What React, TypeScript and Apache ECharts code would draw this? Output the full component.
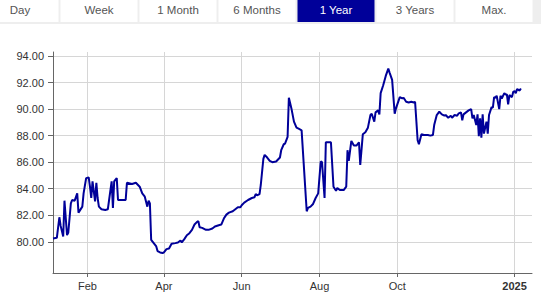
import React, { useEffect, useRef } from 'react';
import * as echarts from 'echarts';

const dates: string[] = [
  '2024-01-05','2024-01-08','2024-01-10','2024-01-11','2024-01-13','2024-01-14','2024-01-16','2024-01-17','2024-01-19','2024-01-20',
  '2024-01-22','2024-01-24','2024-01-25','2024-01-28','2024-01-29','2024-01-31','2024-02-02','2024-02-03','2024-02-04','2024-02-05',
  '2024-02-07','2024-02-08','2024-02-09','2024-02-10','2024-02-12','2024-02-15','2024-02-17','2024-02-18','2024-02-20','2024-02-21',
  '2024-02-22','2024-02-24','2024-02-25','2024-03-02','2024-03-03','2024-03-07','2024-03-10','2024-03-13','2024-03-15','2024-03-17',
  '2024-03-19','2024-03-20','2024-03-21','2024-03-22','2024-03-24','2024-03-26','2024-03-27','2024-03-29','2024-03-31','2024-04-01',
  '2024-04-03','2024-04-05','2024-04-07','2024-04-10','2024-04-12','2024-04-14','2024-04-15','2024-04-17','2024-04-19','2024-04-21',
  '2024-04-23','2024-04-25','2024-04-27','2024-04-28','2024-04-29','2024-05-01','2024-05-04','2024-05-06','2024-05-09','2024-05-11',
  '2024-05-14','2024-05-16','2024-05-18','2024-05-20','2024-05-22','2024-05-25','2024-05-27','2024-05-29','2024-05-31','2024-06-01',
  '2024-06-03','2024-06-06','2024-06-09','2024-06-11','2024-06-12','2024-06-13','2024-06-15','2024-06-16','2024-06-18','2024-06-19',
  '2024-06-21','2024-06-23','2024-06-25','2024-06-28','2024-07-01','2024-07-02','2024-07-04','2024-07-05','2024-07-07','2024-07-08',
  '2024-07-10','2024-07-12','2024-07-14','2024-07-16','2024-07-18','2024-07-22','2024-07-23','2024-07-25','2024-07-27','2024-07-29',
  '2024-07-31','2024-08-02','2024-08-03','2024-08-05','2024-08-06','2024-08-08','2024-08-10','2024-08-12','2024-08-14','2024-08-15',
  '2024-08-17','2024-08-20','2024-08-22','2024-08-23','2024-08-24','2024-08-26','2024-08-28','2024-08-30','2024-09-01','2024-09-02',
  '2024-09-04','2024-09-06','2024-09-08','2024-09-10','2024-09-11','2024-09-13','2024-09-14','2024-09-16','2024-09-17','2024-09-18',
  '2024-09-20','2024-09-22','2024-09-24','2024-09-25','2024-09-27','2024-09-29','2024-09-30','2024-10-03','2024-10-05','2024-10-06',
  '2024-10-08','2024-10-10','2024-10-12','2024-10-14','2024-10-15','2024-10-17','2024-10-18','2024-10-20','2024-10-22','2024-10-25',
  '2024-10-27','2024-10-29','2024-10-30','2024-11-01','2024-11-03','2024-11-05','2024-11-07','2024-11-08','2024-11-10','2024-11-12',
  '2024-11-13','2024-11-15','2024-11-17','2024-11-18','2024-11-20','2024-11-21','2024-11-22','2024-11-24','2024-11-26','2024-11-28',
  '2024-11-29','2024-11-30','2024-12-02','2024-12-03','2024-12-04','2024-12-05','2024-12-06','2024-12-07','2024-12-08','2024-12-10',
  '2024-12-11','2024-12-12','2024-12-14','2024-12-15','2024-12-16','2024-12-17','2024-12-18','2024-12-20','2024-12-21','2024-12-22',
  '2024-12-24','2024-12-25','2024-12-26','2024-12-27','2024-12-28','2024-12-30','2024-12-31','2025-01-01','2025-01-02','2025-01-03',
  '2025-01-05','2025-01-06'
];

const prices: number[] = [
  80.25, 80.3, 81.85, 81.2, 80.4, 83.1, 80.5, 80.7, 82.9, 83.15,
  83.1, 83.65, 82.2, 82.65, 83.65, 84.8, 84.85, 84.15, 83.3, 84.55,
  83.05, 84.45, 83.3, 82.65, 82.45, 82.4, 82.45, 83.15, 84.55, 82.55,
  84.55, 84.8, 83.15, 83.15, 84.45, 84.35, 84.45, 84.15, 83.65, 83.4,
  82.65, 83.1, 82.9, 80.15, 79.9, 79.65, 79.3, 79.2, 79.15, 79.2,
  79.45, 79.5, 79.85, 79.9, 79.95, 80.1, 79.95, 80.2, 80.5, 80.65,
  80.9, 81.3, 81.5, 81.55, 81.1, 81.05, 80.9, 80.9, 81.0, 81.15,
  81.25, 81.3, 81.75, 82.05, 82.2, 82.3, 82.45, 82.6, 82.6, 82.75,
  82.95, 83.15, 83.3, 83.35, 83.6, 83.5, 83.6, 84.3, 86.25, 86.55,
  86.35, 86.1, 86.0, 86.05, 86.35, 86.9, 87.35, 87.4, 87.9, 90.85,
  90.05, 89.05, 88.6, 88.5, 88.4, 82.3, 82.55, 82.65, 82.85, 83.3,
  83.65, 86.05, 86.0, 83.3, 87.5, 87.5, 87.5, 84.15, 83.85, 84.05,
  83.9, 83.9, 84.15, 86.9, 86.1, 87.6, 87.25, 87.25, 87.5, 85.8,
  88.1, 88.25, 88.6, 89.55, 89.65, 89.05, 89.75, 89.9, 89.6, 91.2,
  91.8, 92.5, 93.05, 92.75, 92.2, 89.65, 90.05, 90.9, 90.8, 90.85,
  90.55, 90.5, 90.55, 90.5, 90.55, 87.65, 87.35, 88.1, 88.05, 88.05,
  88.0, 88.05, 88.8, 89.55, 89.8, 89.6, 89.5, 89.55, 89.35, 89.5,
  89.35, 89.55, 89.5, 89.65, 89.75, 89.15, 89.6, 89.75, 89.9, 90.0,
  89.3, 89.55, 88.8, 89.6, 87.95, 89.3, 87.85, 89.6, 88.15, 89.05,
  88.15, 89.55, 90.15, 90.1, 90.9, 90.85, 91.0, 90.0, 91.0, 90.8,
  91.2, 91.1, 91.1, 90.35, 91.05, 90.9, 91.3, 91.35, 91.2, 91.5,
  91.4, 91.55
];

const yTicks: number[] = [80, 82, 84, 86, 88, 90, 92, 94];
const xTickDates: string[] = ['2024-02-01', '2024-04-01', '2024-06-01', '2024-08-01', '2024-10-01', '2025-01-01'];
const xTickLabels: string[] = ['Feb', 'Apr', 'Jun', 'Aug', 'Oct', '2025'];
const boldLabels: string[] = ['2025'];
const tabs: string[] = ['Day', 'Week', '1 Month', '6 Months', '1 Year', '3 Years', 'Max.'];
const activeTab = '1 Year';
const xStart = '2024-01-05';
const xEnd = '2025-01-14';

const toTs = (s: string): number => {
  const [y, m, d] = s.split('-').map(Number);
  return Date.UTC(y, m - 1, d);
};

const FONT = '"Liberation Sans", Arial, Helvetica, sans-serif';

export default function App() {
  const ref = useRef<HTMLDivElement>(null);

  useEffect(() => {
    if (!ref.current) return;
    const chart = echarts.init(ref.current, undefined, { renderer: 'svg' });
    const xTickTs = xTickDates.map(toTs);
    const DAY = 86400000;

    const tabGraphics: any[] = [
      { type: 'rect', shape: { x: 0, y: 0, width: 541, height: 24 }, style: { fill: '#eeeeee' }, silent: true },
    ];
    tabs.forEach((t, i) => {
      const cx = 20 + 79 * i;
      const active = t === activeTab;
      tabGraphics.push({
        type: 'rect',
        shape: { x: cx - 38.5, y: 0, width: 77, height: 22 },
        style: { fill: active ? '#000099' : '#ffffff' },
        silent: true,
      });
      tabGraphics.push({
        type: 'text',
        x: cx,
        y: 9.5,
        style: {
          text: t,
          fill: active ? '#ffffff' : '#555555',
          fontSize: 11.5,
          fontFamily: FONT,
          align: 'center',
          verticalAlign: 'middle',
        },
        silent: true,
      });
    });

    const option: any = {
      animation: false,
      backgroundColor: '#ffffff',
      graphic: tabGraphics,
      grid: { left: 53, right: 9, top: 52, bottom: 24, containLabel: false, outerBoundsMode: 'none' },
      xAxis: {
        type: 'value',
        min: toTs(xStart),
        max: toTs(xEnd) + 17 * 3600000,
        axisLine: { show: true, lineStyle: { color: '#666666', width: 1 } },
        axisTick: { show: true, customValues: xTickTs, length: 4, lineStyle: { color: '#666666' } },
        axisLabel: {
          customValues: xTickTs,
          fontSize: 11,
          fontFamily: FONT,
          color: '#333333',
          margin: 7,
          formatter: (v: number) => {
            let idx = 0;
            let best = Infinity;
            xTickTs.forEach((t, i) => {
              const d = Math.abs(t - v);
              if (d < best) { best = d; idx = i; }
            });
            if (best > DAY) return '';
            const lab = xTickLabels[idx];
            return boldLabels.includes(lab) ? '{b|' + lab + '}' : lab;
          },
          rich: { b: { fontWeight: 'bold', fontSize: 11, fontFamily: FONT, color: '#333333' } },
        },
        splitLine: { show: true, lineStyle: { color: '#d6d6d6', width: 1 } },
      },
      yAxis: {
        type: 'value',
        min: 77.65,
        max: 94.3,
        axisLine: { show: true, lineStyle: { color: '#666666', width: 1 } },
        axisTick: { show: true, customValues: yTicks, length: 5, lineStyle: { color: '#666666' } },
        axisLabel: {
          customValues: yTicks,
          fontSize: 11,
          fontFamily: FONT,
          color: '#333333',
          margin: 9,
          formatter: (v: number) => v.toFixed(2),
        },
        splitLine: { show: true, lineStyle: { color: '#d6d6d6', width: 1 } },
      },
      series: [
        {
          type: 'line',
          data: dates.map((d, i) => [toTs(d), prices[i]]),
          showSymbol: false,
          symbol: 'none',
          lineStyle: { color: '#000099', width: 2 },
          itemStyle: { color: '#000099' },
        },
      ],
    };
    chart.setOption(option);
    return () => chart.dispose();
  }, []);

  return (
    <div
      ref={ref}
      style={{ position: 'absolute', left: 0, top: 0, width: 541, height: 297 }}
    />
  );
}
